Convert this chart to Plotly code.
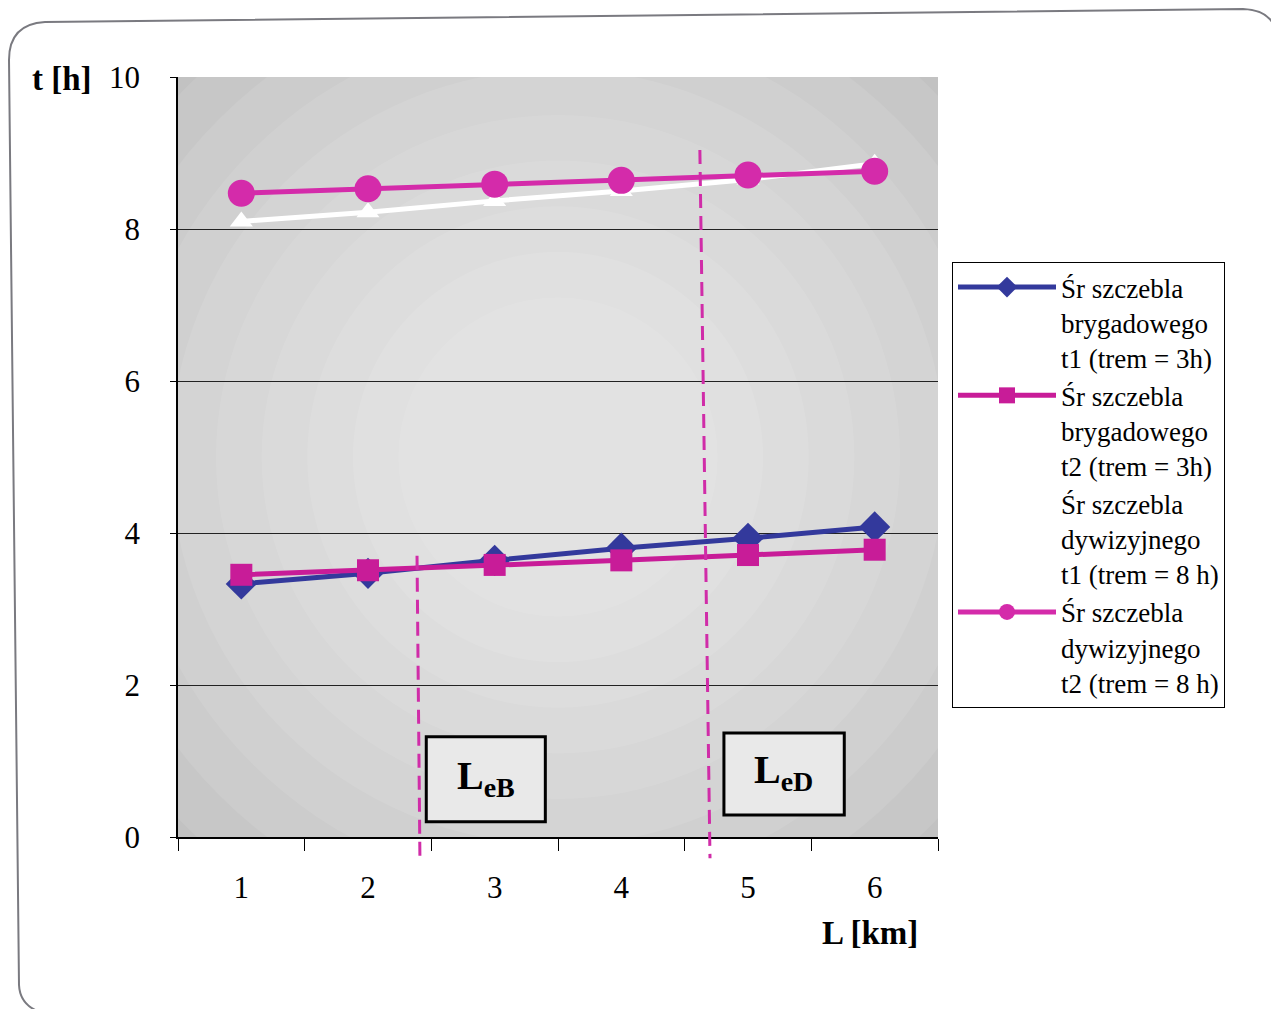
import plotly.graph_objects as go

# ---------------- data ----------------
L_km = [1, 2, 3, 4, 5, 6]
x_tick_labels = ["1", "2", "3", "4", "5", "6"]
y_tick_vals = [0, 2, 4, 6, 8, 10]

names = [
    "Śr szczebla<br>brygadowego<br>t1 (trem = 3h)",
    "Śr szczebla<br>brygadowego<br>t2 (trem = 3h)",
    "Śr szczebla<br>dywizyjnego<br>t1 (trem = 8 h)",
    "Śr szczebla<br>dywizyjnego<br>t2 (trem = 8 h)",
]
bryg_t1 = [3.33, 3.47, 3.64, 3.80, 3.93, 4.08]
bryg_t2 = [3.45, 3.51, 3.58, 3.64, 3.71, 3.78]
dyw_t1 = [8.10, 8.22, 8.37, 8.50, 8.65, 8.86]
dyw_t2 = [8.47, 8.53, 8.59, 8.64, 8.71, 8.76]

LeB_label = "L<sub>eB</sub>"
LeD_label = "L<sub>eD</sub>"
LeB_x = (2.387, 2.41)   # top, bottom of dashed marker
LeD_x = (4.62, 4.70)

# ---------------- layout constants ----------------
OFF = 8                       # page body margin of the browser
W, H = 1279 - OFF, 1009 - OFF
PL, PT, PR, PB = 178, 77, 938, 837   # plot area in screenshot pixels
ML, MT = PL - OFF, PT - OFF
MR, MB = W - (PR - OFF), H - (PB - OFF)
PW, PH = PR - PL, PB - PT
SERIF = "Liberation Serif, Times New Roman, serif"

def px(xp, yp):
    """screenshot pixel -> paper coords (decoration only)"""
    return (xp - PL) / PW, (PB - yp) / PH

BLUE = "#33399C"
MAG = "#C81C98"
PINK = "#D42BAA"

fig = go.Figure()
fig.add_trace(go.Scatter(x=L_km, y=bryg_t1, name=names[0], mode="lines+markers",
                         line=dict(color=BLUE, width=5),
                         marker=dict(symbol="diamond", size=24, color=BLUE, line=dict(width=0))))
fig.add_trace(go.Scatter(x=L_km, y=bryg_t2, name=names[1], mode="lines+markers",
                         line=dict(color=MAG, width=5),
                         marker=dict(symbol="square", size=22, color=MAG, line=dict(width=0))))
fig.add_trace(go.Scatter(x=L_km, y=dyw_t1, name=names[2], mode="lines+markers",
                         line=dict(color="white", width=5),
                         marker=dict(symbol="triangle-up", size=20, color="white", line=dict(width=0))))
fig.add_trace(go.Scatter(x=L_km, y=dyw_t2, name=names[3], mode="lines+markers",
                         line=dict(color=PINK, width=5),
                         marker=dict(symbol="circle", size=27, color=PINK, line=dict(width=0))))

shapes = []
# radial-ish gradient of plot background
n = 10
for i in range(n):
    f = i / n
    shapes.append(dict(type="circle", xref="x domain", yref="y domain",
                       x0=-0.25 + 0.6 * f, x1=1.25 - 0.6 * f,
                       y0=-0.25 + 0.6 * f, y1=1.25 - 0.6 * f,
                       fillcolor="white", opacity=0.09, line=dict(width=0), layer="below"))

# dashed L markers
for (xt, xb), ytop in [(LeB_x, 0.37), (LeD_x, 0.904)]:
    shapes.append(dict(type="line", xref="x", yref="paper", x0=xt, x1=xb, y0=ytop, y1=-0.028,
                       line=dict(color="#D02CA8", width=3, dash="14px,8px"), layer="above"))

# boxes
for x0, x1, y0, y1 in [(2.46, 3.40, 0.20, 1.32), (4.81, 5.76, 0.29, 1.37)]:
    shapes.append(dict(type="rect", xref="x", yref="y", x0=x0, x1=x1, y0=y0, y1=y1,
                       fillcolor="#e9e9e9", line=dict(color="black", width=3), layer="above"))

# page border
pts = [(1278, 1009), (1278, 45), (1278, 10), (1243, 9), (45, 22), (9, 24), (9, 60),
       (19, 985), (20, 1005), (40, 1012)]
P = [px(*p) for p in pts]
path = (f"M {P[0][0]},{P[0][1]} L {P[1][0]},{P[1][1]} Q {P[2][0]},{P[2][1]} {P[3][0]},{P[3][1]} "
        f"L {P[4][0]},{P[4][1]} Q {P[5][0]},{P[5][1]} {P[6][0]},{P[6][1]} "
        f"L {P[7][0]},{P[7][1]} Q {P[8][0]},{P[8][1]} {P[9][0]},{P[9][1]}")
shapes.append(dict(type="path", xref="paper", yref="paper", path=path,
                   line=dict(color="#7a7a80", width=2)))

tx, ty = px(62, 79)
lx2, ly2 = px(870, 933)
annotations = [
    dict(text=LeB_label, x=2.93, y=0.78, xref="x", yref="y", showarrow=False,
         font=dict(family=SERIF, size=40, color="black", weight="bold")),
    dict(text=LeD_label, x=5.28, y=0.86, xref="x", yref="y", showarrow=False,
         font=dict(family=SERIF, size=40, color="black", weight="bold")),
    dict(text="t [h]", x=tx, y=ty, xref="paper", yref="paper", xanchor="center", yanchor="middle",
         showarrow=False, font=dict(family=SERIF, size=33, color="black", weight="bold")),
    dict(text="L [km]", x=lx2, y=ly2, xref="paper", yref="paper", xanchor="center", yanchor="middle",
         showarrow=False, font=dict(family=SERIF, size=33, color="black", weight="bold")),
]

lx, ly = px(952, 262)
fig.update_layout(
    width=W, height=H,
    margin=dict(l=ML, r=MR, t=MT, b=MB),
    paper_bgcolor="white",
    plot_bgcolor="#bcbcbc",
    font=dict(family=SERIF, color="black"),
    shapes=shapes,
    annotations=annotations,
    legend=dict(x=lx, y=ly, xanchor="left", yanchor="top",
                bgcolor="white", bordercolor="black", borderwidth=1,
                font=dict(family=SERIF, size=27, color="black"),
                valign="top", itemwidth=98, tracegroupgap=0),
    xaxis=dict(range=[0.5, 6.5], tickmode="array", tickvals=L_km, ticktext=x_tick_labels,
               ticks="", showgrid=False, zeroline=False,
               showline=True, linecolor="black", linewidth=1.5,
               tickfont=dict(family=SERIF, size=31, color="black"),
               ticklabelstandoff=22,
               minor=dict(tickmode="linear", tick0=0.5, dtick=1, ticks="outside",
                          ticklen=12, tickcolor="black", tickwidth=1, showgrid=False)),
    yaxis=dict(range=[0, 10], tickmode="array", tickvals=y_tick_vals,
               ticks="outside", ticklen=6, tickcolor="black",
               showgrid=True, gridcolor="#222222", gridwidth=1, zeroline=False,
               showline=True, linecolor="black", linewidth=1.5,
               tickfont=dict(family=SERIF, size=31, color="black"),
               ticklabelstandoff=24),
)

fig.write_html("out.html")
